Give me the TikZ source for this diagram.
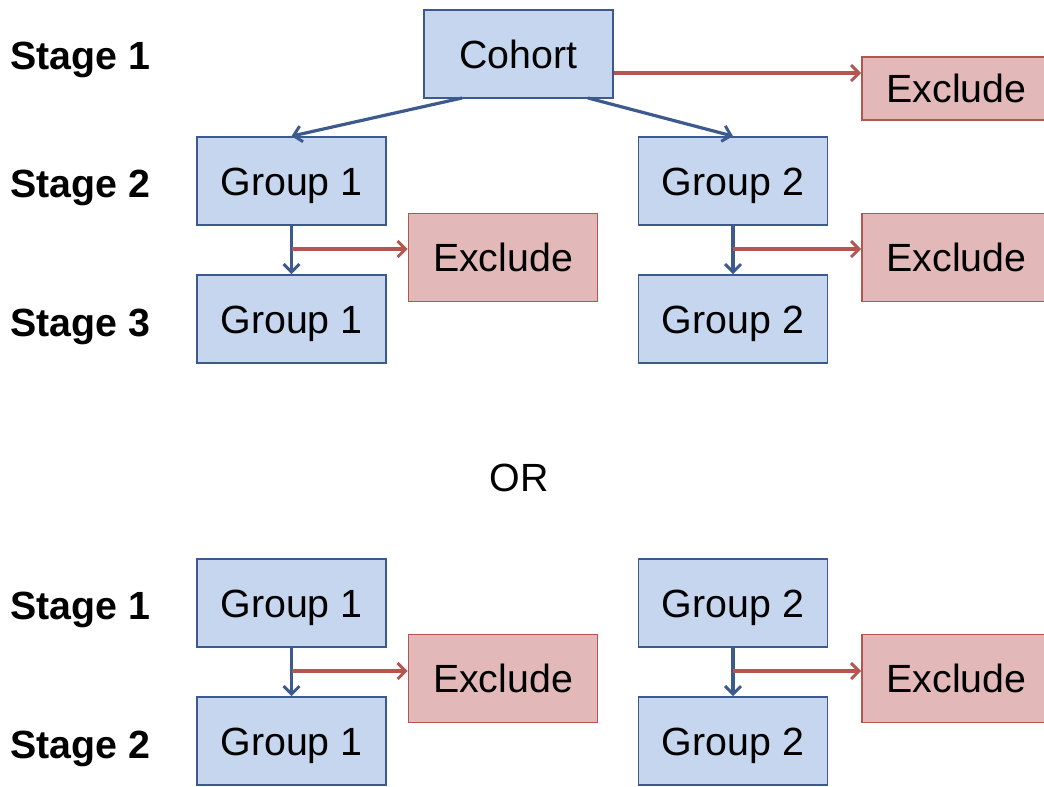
\documentclass[tikz,border=0pt]{standalone}
\usepackage{fontspec}
\setmainfont{Liberation Sans}
\usetikzlibrary{arrows.meta}
\definecolor{bluefill}{HTML}{C6D6EF}
\definecolor{blueline}{HTML}{3D5A8E}
\definecolor{redfill}{HTML}{E2B9B8}
\definecolor{redline}{HTML}{B5554F}
\begin{document}
\begin{tikzpicture}[x=0.75pt,y=-0.75pt,
  txt/.style={font=\fontsize{29.5}{35}\selectfont},
  boxtxt/.style={txt,text height=21.2pt,text depth=0pt,inner sep=0pt,line width=1.3pt,
    minimum width=189*0.75pt,minimum height=88*0.75pt},
  bluebox/.style={boxtxt,draw=blueline,fill=bluefill},
  redbox/.style={boxtxt,draw=redline,fill=redfill},
  stagelbl/.style={font=\fontsize{29.5}{35}\selectfont\bfseries,anchor=base west,inner sep=0pt},
  bluearrow/.style={draw=blueline,line width=2.4pt,-{Straight Barb[length=6pt,width=12pt,line width=2.2pt]}},
  redarrow/.style={draw=redline,line width=2.4pt,-{Straight Barb[length=6pt,width=12pt,line width=2.2pt]}}]
\useasboundingbox (0,0) rectangle (1044,786);
\clip (0,0) rectangle (1044,786);

% stage labels
\node[stagelbl] (s1a) at (10,69) {Stage 1};
\node[stagelbl] (s2a) at (10,197) {Stage 2};
\node[stagelbl] (s3a) at (10,336) {Stage 3};
\node[stagelbl] (s1b) at (10,619) {Stage 1};
\node[stagelbl] (s2b) at (10,758) {Stage 2};

% upper scheme
\node[bluebox] (cohort) at (518.5,54) {Cohort};
\node[redbox, minimum height=63*0.75pt] (ex0) at (956.5,88.5) {Exclude};
\node[bluebox] (g1a) at (291.5,181) {Group 1};
\node[bluebox] (g2a) at (733,181) {Group 2};
\node[redbox] (ex1) at (503,257.5) {Exclude};
\node[redbox] (ex2) at (956.5,257.5) {Exclude};
\node[bluebox] (g1b) at (291.5,319) {Group 1};
\node[bluebox] (g2b) at (733,319) {Group 2};

\node[txt] (or) at (519,478) {OR};

% lower scheme
\node[bluebox] (g1c) at (291.5,603) {Group 1};
\node[bluebox] (g2c) at (733,603) {Group 2};
\node[redbox] (ex3) at (503,678.5) {Exclude};
\node[redbox] (ex4) at (956.5,678.5) {Exclude};
\node[bluebox] (g1d) at (291.5,741) {Group 1};
\node[bluebox] (g2d) at (733,741) {Group 2};

% connectors
\coordinate (cl) at (462,98);
\coordinate (cr) at (588,98);
\draw[bluearrow] (cl) -- (g1a.north);
\draw[bluearrow] (cr) -- (g2a.north);
\draw[redarrow] (cohort.east |- 0,73) -- (ex0.west |- 0,73);

\draw[bluearrow] (g1a.south) -- (g1b.north);
\draw[redarrow] (291.5,249) -- (ex1.west |- 0,249);
\draw[bluearrow] (g2a.south) -- (g2b.north);
\draw[redarrow] (733,249) -- (ex2.west |- 0,249);

\draw[bluearrow] (g1c.south) -- (g1d.north);
\draw[redarrow] (291.5,671) -- (ex3.west |- 0,671);
\draw[bluearrow] (g2c.south) -- (g2d.north);
\draw[redarrow] (733,671) -- (ex4.west |- 0,671);
\end{tikzpicture}
\end{document}
